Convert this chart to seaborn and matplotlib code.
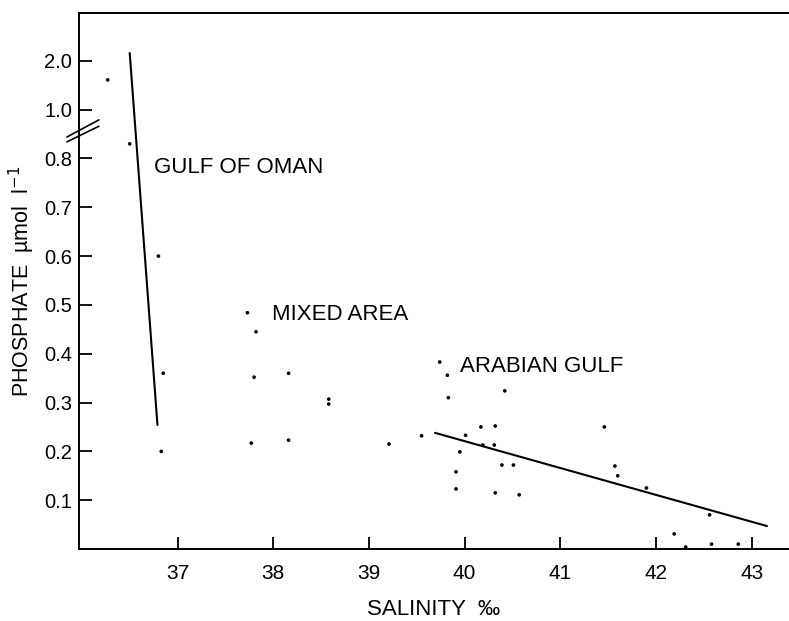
import matplotlib
matplotlib.use("Agg")
import matplotlib.pyplot as plt
import matplotlib.transforms as mtrans
import seaborn as sns
import numpy as np
import pandas as pd

# ---- data (salinity ‰, phosphate µmol/l) ----
oman_sal = [36.27, 36.50, 36.80, 36.85, 36.83]
oman_pho = [1.61, 0.83, 0.60, 0.36, 0.20]

mixed_sal = [37.73, 37.82, 37.80, 38.16, 37.77, 38.16, 38.58, 38.58, 39.21, 39.55]
mixed_pho = [0.484, 0.445, 0.352, 0.360, 0.217, 0.223, 0.307, 0.297, 0.215, 0.232]

arab_sal = [39.74, 39.82, 39.83, 40.42, 40.01, 40.17, 40.32, 40.19, 40.31, 39.95,
            39.91, 39.91, 40.39, 40.51, 40.32, 40.57, 41.46, 41.57, 41.60, 41.90,
            42.56, 42.19, 42.31, 42.58, 42.86]
arab_pho = [0.383, 0.356, 0.310, 0.324, 0.233, 0.250, 0.252, 0.213, 0.213, 0.199,
            0.158, 0.123, 0.172, 0.172, 0.115, 0.111, 0.250, 0.170, 0.150, 0.125,
            0.070, 0.031, 0.004, 0.010, 0.010]

oman_line_sal = [36.50, 36.79]
oman_line_pho = [2.16, 0.254]
arab_line_sal = [39.69, 43.16]
arab_line_pho = [0.238, 0.047]

ytick_values = [0.1, 0.2, 0.3, 0.4, 0.5, 0.6, 0.7, 0.8, 1.0, 2.0]
ytick_labels = ["0.1", "0.2", "0.3", "0.4", "0.5", "0.6", "0.7", "0.8", "1.0", "2.0"]
xtick_values = [37, 38, 39, 40, 41, 42, 43]


def ybreak(v):
    """Broken axis: linear up to 0.8, then 1.0 -> 0.9 and 2.0 -> 1.0."""
    v = np.asarray(v, dtype=float)
    return np.where(v <= 0.85, v, 0.9 + (v - 1.0) * 0.1)


pts = pd.DataFrame({
    "sal": oman_sal + mixed_sal + arab_sal,
    "pho": list(oman_pho) + list(mixed_pho) + list(arab_pho),
})
pts["y"] = ybreak(pts["pho"])

lines = pd.DataFrame({
    "sal": oman_line_sal + arab_line_sal,
    "pho": oman_line_pho + arab_line_pho,
    "grp": ["oman", "oman", "arab", "arab"],
})
lines["y"] = ybreak(lines["pho"])

sns.set_style("ticks")
plt.rcParams["font.family"] = ["Liberation Sans", "DejaVu Sans"]
for k in ["text.color", "axes.labelcolor", "xtick.color", "ytick.color", "axes.edgecolor"]:
    plt.rcParams[k] = "black"

fig = plt.figure(figsize=(7.89, 6.21), dpi=100)
ax = fig.add_axes([79 / 789, 72 / 621, 1 - 79 / 789, 536 / 621])

sns.scatterplot(data=pts, x="sal", y="y", ax=ax, color="black", s=7,
                edgecolor="none", legend=False)
sns.lineplot(data=lines, x="sal", y="y", units="grp", estimator=None, ax=ax,
             color="black", linewidth=1.5, sort=False, legend=False)

ax.set_xlim(35.97, 43.39)
ax.set_ylim(0, 1.098)

ax.set_xticks(xtick_values)
ax.set_xticklabels([str(v) for v in xtick_values])
ax.set_yticks(ybreak(ytick_values))
ax.set_yticklabels(ytick_labels)

ax.tick_params(axis="both", direction="in", length=9, width=1.3, colors="black")
ax.tick_params(axis="x", pad=11, labelsize=15)
ax.tick_params(axis="y", pad=5, labelsize=14.5)

for s in ["left", "bottom", "top"]:
    ax.spines[s].set_linewidth(1.4)
    ax.spines[s].set_color("black")
ax.spines["right"].set_visible(False)

ax.set_xlabel("SALINITY  ‰", fontsize=16, labelpad=11)
ax.set_ylabel("PHOSPHATE  µmol  l$^{-1}$", fontsize=15.5, labelpad=5)

# break marks on the y axis
trans = mtrans.blended_transform_factory(ax.transAxes, ax.transData)
for y0, y1 in ((0.844, 0.879), (0.834, 0.866)):
    ax.plot([-0.017, 0.028], [y0, y1], transform=trans,
            color="black", lw=1.2, clip_on=False)

ax.text(36.75, 0.781, "GULF OF OMAN", fontsize=16, va="center", ha="left")
ax.text(37.99, 0.480, "MIXED AREA", fontsize=16, va="center", ha="left")
ax.text(39.95, 0.373, "ARABIAN GULF", fontsize=16, va="center", ha="left")

fig.savefig("out.png", dpi=100)
